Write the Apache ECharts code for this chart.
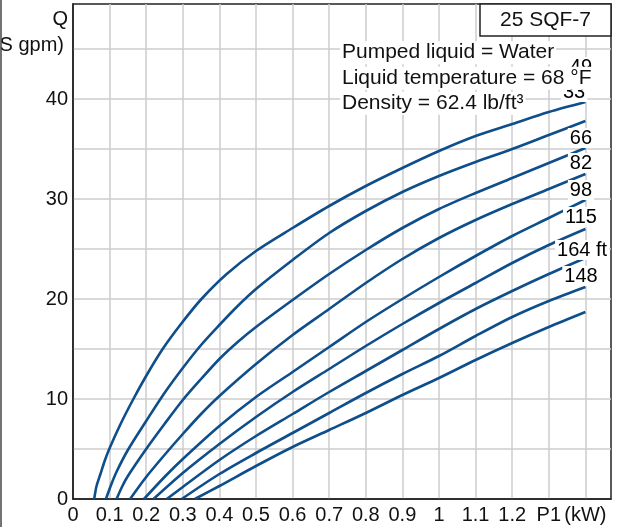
<!DOCTYPE html>
<html>
<head>
<meta charset="utf-8">
<script src="https://cdn.jsdelivr.net/npm/echarts@6/dist/echarts.min.js"></script>
<style>
html,body{margin:0;padding:0;background:#fff;}
#chart{width:620px;height:527px;}
</style>
</head>
<body>
<div id="chart"></div>
<script>
// ---- data (x = P1 kW, y = Q US gpm) ----
const xTickLabels = ['0','0.1','0.2','0.3','0.4','0.5','0.6','0.7','0.8','0.9','1','1.1','1.2','P1','(kW)'];
const yTickLabels = ['0','','10','','20','','30','','40',''];

const curve1 = [[0.058,0],[0.064,1.25],[0.075,2.5],[0.086,3.75],[0.099,5],[0.13,7.5],[0.165,10],[0.203,12.5],[0.245,15],[0.295,17.5],[0.351,20],[0.42,22.5],[0.5,24.8],[0.6,27.1],[0.7,29.3],[0.8,31.3],[0.9,33.1],[1.0,34.8],[1.1,36.3],[1.2,37.5],[1.3,38.7],[1.4,39.7]];
const curve2 = [[0.090,0],[0.105,1.5],[0.12,2.8],[0.15,4.9],[0.2,7.8],[0.25,10.6],[0.3,13.1],[0.35,15.4],[0.4,17.4],[0.45,19.3],[0.5,21.0],[0.6,23.9],[0.7,26.6],[0.8,28.8],[0.9,30.7],[1.0,32.3],[1.1,33.7],[1.2,35.0],[1.3,36.4],[1.4,37.8]];
const curve3 = [[0.119,0],[0.135,1.3],[0.15,2.3],[0.2,5.0],[0.25,7.5],[0.3,9.9],[0.35,12.0],[0.4,14.0],[0.45,15.7],[0.5,17.2],[0.6,19.9],[0.7,22.5],[0.8,24.9],[0.9,27.1],[1.0,29.0],[1.1,30.6],[1.2,32.1],[1.3,33.6],[1.4,35.1]];
const curve4 = [[0.156,0],[0.2,2.2],[0.25,4.4],[0.3,6.5],[0.35,8.5],[0.4,10.3],[0.5,13.5],[0.6,16.4],[0.7,19.0],[0.8,21.6],[0.9,24.0],[1.0,26.1],[1.1,27.9],[1.2,29.5],[1.3,31.0],[1.4,32.5]];
const curve5 = [[0.194,0],[0.25,2.2],[0.3,4.0],[0.4,7.3],[0.5,10.2],[0.6,12.7],[0.7,15.2],[0.8,17.7],[0.9,20.0],[1.0,22.2],[1.1,24.3],[1.2,26.3],[1.3,28.1],[1.4,29.9]];
const curve6 = [[0.220,0],[0.3,2.6],[0.4,5.5],[0.5,8.2],[0.6,10.7],[0.7,13.0],[0.8,15.3],[0.9,17.5],[1.0,19.6],[1.1,21.6],[1.2,23.6],[1.3,25.4],[1.4,27.0]];
const curve7 = [[0.256,0],[0.3,1.2],[0.4,3.9],[0.5,6.3],[0.6,8.5],[0.7,10.7],[0.8,12.8],[0.9,14.9],[1.0,17.0],[1.1,19.0],[1.2,20.8],[1.3,22.5],[1.4,24.1]];
const curve8 = [[0.297,0],[0.4,2.5],[0.5,4.6],[0.6,6.6],[0.7,8.6],[0.8,10.6],[0.9,12.5],[1.0,14.3],[1.1,16.3],[1.2,18.2],[1.3,19.8],[1.4,21.2]];
const curve9 = [[0.333,0],[0.4,1.3],[0.5,3.3],[0.6,5.2],[0.7,6.9],[0.8,8.6],[0.9,10.4],[1.0,12.1],[1.1,13.9],[1.2,15.6],[1.3,17.2],[1.4,18.7]];

const headLabels = ['49','33','66','82','98','115','164 ft','148'];
const headLabelX = [1.388,1.369,1.388,1.388,1.388,1.388,1.391,1.388];
const headLabelY = [43.2,40.7,36.1,33.6,30.9,28.2,24.9,22.3];

const infoLines = ['Pumped liquid = Water','Liquid temperature = 68 \u00b0F','Density = 62.4 lb/ft\u00b3'];
const titleText = '25 SQF-7';
const yName = 'Q';
const yUnit = '(US gpm)';

// ---- chart ----
const FONT = '"Liberation Sans", Arial, sans-serif';
const curves = [curve1,curve2,curve3,curve4,curve5,curve6,curve7,curve8,curve9];
const chart = echarts.init(document.getElementById('chart'), null, {renderer:'canvas'});

const lineSeries = curves.map(function(d){
  return {
    type:'line', data:d, smooth:0.3,
    symbol:'none', showSymbol:false, silent:true, z:2,
    lineStyle:{color:'#0e4e8a', width:2.6}
  };
});

const labelSeries = {
  type:'scatter', z:5, silent:true, symbolSize:1,
  itemStyle:{color:'#fff', opacity:1},
  data: headLabels.map(function(t,i){ return [headLabelX[i], headLabelY[i], t]; }),
  label:{
    show:true, position:'inside', opacity:1,
    formatter:function(p){ return p.data[2]; },
    fontFamily:FONT, fontSize:20, color:'#000',
    backgroundColor:'#fff', padding:[0,2]
  }
};

const infoY = [52.7, 78.3, 103.3];
const graphics = infoLines.map(function(t,i){
  return {
    type:'text', z:100, x:340, y:infoY[i],
    style:{text:t, font:'21px ' + FONT, fill:'#111', align:'left', verticalAlign:'middle',
      backgroundColor:'#fff', padding:[1,2]}
  };
});
graphics.push({
  type:'rect', z:100, shape:{x:480, y:4, width:131, height:32},
  style:{fill:'#fff', stroke:'#222', lineWidth:1.5}
});
graphics.push({
  type:'text', z:101, x:545.5, y:20,
  style:{text:titleText, font:'21px ' + FONT, fill:'#111', align:'center', verticalAlign:'middle'}
});
graphics.push({
  type:'text', z:100, x:68, y:19,
  style:{text:yName, font:'20px ' + FONT, fill:'#111', align:'right', verticalAlign:'middle'}
});
graphics.push({
  type:'text', z:100, x:64, y:45,
  style:{text:yUnit, font:'20px ' + FONT, fill:'#111', align:'right', verticalAlign:'middle'}
});
graphics.push({
  type:'line', z:100, shape:{x1:1, y1:0, x2:1, y2:527},
  style:{stroke:'#444', lineWidth:1.5}
});

chart.setOption({
  animation:false,
  backgroundColor:'#fff',
  grid:{left:73, right:9, top:4, bottom:28, show:true, borderColor:'#222', borderWidth:1.5, backgroundColor:'transparent'},
  xAxis:{
    type:'value', min:0, max:1.47, interval:0.1,
    axisLine:{show:true, lineStyle:{color:'#222', width:1.5}},
    axisTick:{show:false},
    splitLine:{show:true, showMinLine:false, showMaxLine:false, lineStyle:{color:'#cdcdcd', width:1.5}},
    axisLabel:{
      margin:6, fontFamily:FONT, fontSize:20, color:'#111', showMaxLabel:true,
      formatter:function(v){
        const k = Math.round(v*10);
        if (Math.abs(v*10 - k) > 1e-6) return '';
        return xTickLabels[k] || '';
      }
    }
  },
  yAxis:{
    type:'value', min:0, max:49.5, interval:5,
    axisLine:{show:true, lineStyle:{color:'#222', width:1.5}},
    axisTick:{show:false},
    splitLine:{show:true, showMinLine:false, showMaxLine:false, lineStyle:{color:'#cdcdcd', width:1.5}},
    axisLabel:{
      margin:5, fontFamily:FONT, fontSize:20, color:'#111',
      formatter:function(v){
        const k = Math.round(v/5);
        if (Math.abs(v/5 - k) > 1e-6) return '';
        return yTickLabels[k] || '';
      }
    }
  },
  graphic:graphics,
  series: lineSeries.concat([labelSeries])
});
</script>
</body>
</html>
